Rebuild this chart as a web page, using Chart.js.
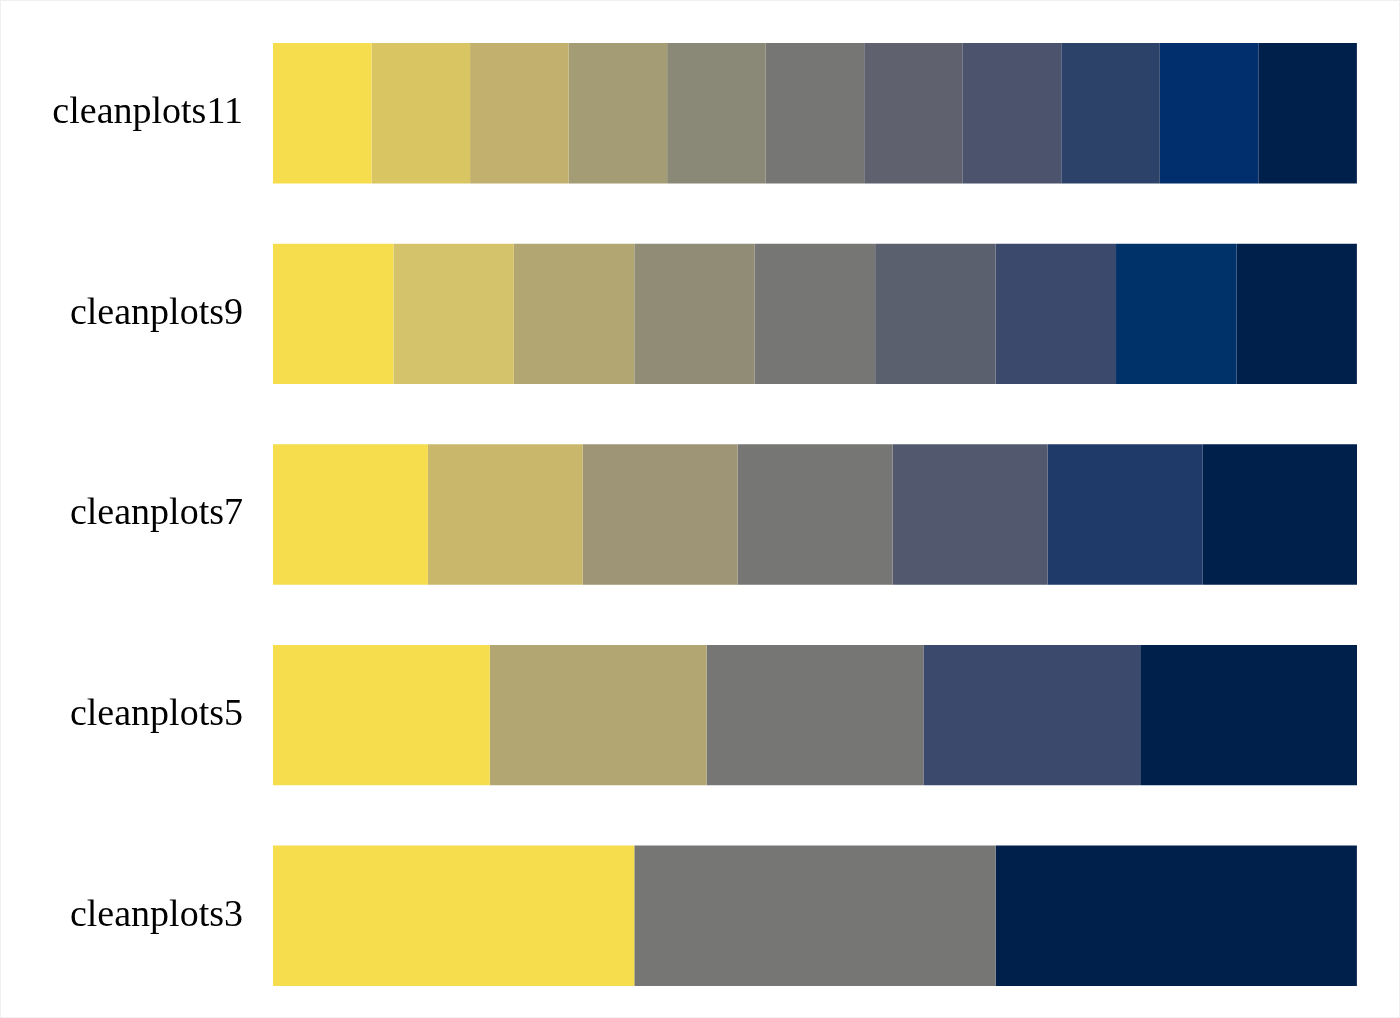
<!DOCTYPE html>
<html>
<head>
<meta charset="utf-8">
<script src="https://cdn.jsdelivr.net/npm/chart.js@4"></script>
<style>
  html, body { margin: 0; padding: 0; background: #fff; }
  #wrap { width: 1398px; height: 1016px; border: 1px solid #f0f0f0; }
</style>
</head>
<body>
<div id="wrap"><canvas id="paletteChart"></canvas></div>
<script>
// palettes, one row each
const categories = ['cleanplots11', 'cleanplots9', 'cleanplots7', 'cleanplots5', 'cleanplots3'];
// share of the row taken by each swatch (percent)
const shares = [9.09, 11.11, 14.29, 20, 33.33];

const cleanplots11 = ['#F5DD4D', '#D9C663', '#C2B06E', '#A39C75', '#8A8876', '#767674',
                      '#5F616E', '#4B536D', '#2D4269', '#012E6C', '#00204C'];
const cleanplots9 = ['#F5DD4D', '#D4C36A', '#B2A772', '#918C76', '#767674', '#5A606D',
                     '#3B4A6C', '#00326A', '#00204C'];
const cleanplots7 = ['#F5DD4D', '#C9B86C', '#9E9576', '#767674', '#52586D', '#1F3A68', '#00204C'];
const cleanplots5 = ['#F5DD4D', '#B2A772', '#767674', '#3B4A6C', '#00204C'];
const cleanplots3 = ['#F5DD4D', '#767674', '#00204C'];

const palettes = [cleanplots11, cleanplots9, cleanplots7, cleanplots5, cleanplots3];

// one dataset per swatch position
const datasets = [];
for (let i = 0; i < cleanplots11.length; i++) {
  datasets.push({
    data: palettes.map((p, c) => (i < p.length ? shares[c] : null)),
    backgroundColor: palettes.map(p => p[i] || 'rgba(0,0,0,0)'),
    borderWidth: 0,
    barPercentage: 0.7,
    categoryPercentage: 1
  });
}

new Chart(document.getElementById('paletteChart'), {
  type: 'bar',
  data: { labels: categories, datasets },
  options: {
    indexAxis: 'y',
    responsive: true,
    maintainAspectRatio: false,
    animation: false,
    layout: { padding: { top: 12, bottom: 1, right: 42, left: 0 } },
    plugins: { legend: { display: false }, tooltip: { enabled: false } },
    scales: {
      x: { stacked: true, min: 0, max: 100, display: false },
      y: {
        stacked: true,
        grid: { display: false },
        border: { display: false },
        ticks: {
          padding: 22,
          color: '#000',
          font: { family: '"Liberation Serif", serif', size: 38 }
        },
        afterFit(scale) {
          scale.width = 272;
          scale.paddingTop = 0;
          scale.paddingBottom = 0;
        }
      }
    }
  }
});
</script>
</body>
</html>
